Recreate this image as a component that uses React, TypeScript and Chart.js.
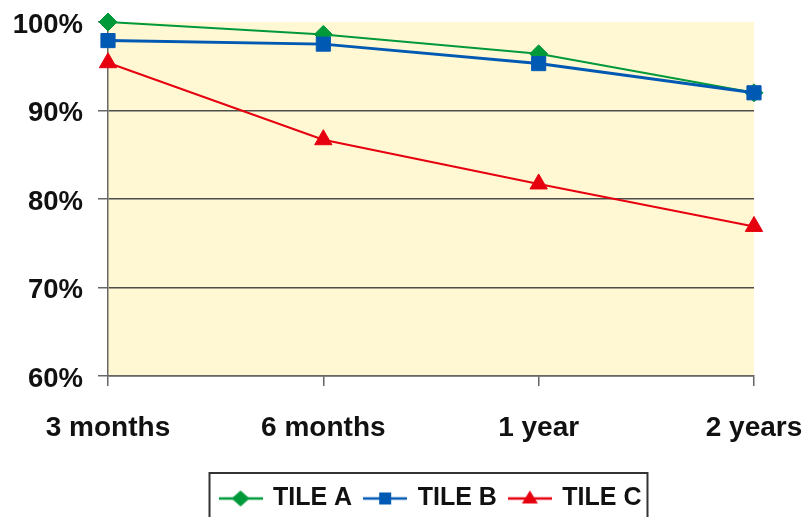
import { useEffect, useRef } from "react";
import { Chart, registerables } from "chart.js";

Chart.register(...registerables);

const categories = ["3 months", "6 months", "1 year", "2 years"];
const seriesNames = ["TILE A", "TILE B", "TILE C"];
const tileA = [100, 98.6, 96.4, 92.0];
const tileB = [97.9, 97.5, 95.3, 92.0];
const tileC = [95.4, 86.7, 81.7, 76.9];
const yTicks = [60, 70, 80, 90, 100];

const GREEN = "#00993A";
const BLUE = "#0059B3";
const RED = "#E6000F";
const FONT_FAMILY = "'Liberation Sans', Arial, Helvetica, sans-serif";

function makeIcon(color: string, kind: string, lineWidth: number): HTMLCanvasElement {
  const c = document.createElement("canvas");
  c.width = 44;
  c.height = 24;
  const ctx = c.getContext("2d")!;
  ctx.strokeStyle = color;
  ctx.fillStyle = color;
  ctx.lineWidth = lineWidth;
  ctx.beginPath();
  ctx.moveTo(0, 12);
  ctx.lineTo(44, 12);
  ctx.stroke();
  const cx = 22;
  const cy = 12;
  ctx.beginPath();
  if (kind === "diamond") {
    ctx.moveTo(cx - 9, cy);
    ctx.lineTo(cx, cy - 8);
    ctx.lineTo(cx + 9, cy);
    ctx.lineTo(cx, cy + 8);
  } else if (kind === "square") {
    ctx.rect(cx - 6, cy - 6, 12, 12);
  } else {
    ctx.moveTo(cx, cy - 8);
    ctx.lineTo(cx + 8, cy + 5);
    ctx.lineTo(cx - 8, cy + 5);
  }
  ctx.closePath();
  ctx.fill();
  return c;
}

const plotBg = {
  id: "plotBg",
  beforeDraw(chart: any) {
    const { ctx, chartArea } = chart;
    if (!chartArea) return;
    ctx.save();
    ctx.fillStyle = "#FFF8D3";
    ctx.fillRect(chartArea.left, chartArea.top, chartArea.right - chartArea.left, chartArea.bottom - chartArea.top);
    ctx.restore();
  },
};

const legendShift = {
  id: "legendShift",
  afterLayout(chart: any) {
    const lg = chart.legend;
    if (!lg) return;
    lg.top += 4;
    lg.bottom += 4;
  },
};

const legendBorder = {
  id: "legendBorder",
  afterDraw(chart: any) {
    const lg = chart.legend;
    const boxes = lg && lg.legendHitBoxes;
    if (!boxes || !boxes.length) return;
    const first = boxes[0];
    const last = boxes[boxes.length - 1];
    const x0 = first.left - 11;
    const x1 = last.left + last.width + 6;
    const y0 = first.top - 13;
    const { ctx } = chart;
    ctx.save();
    ctx.strokeStyle = "#333333";
    ctx.lineWidth = 2;
    ctx.strokeRect(x0, y0, x1 - x0, chart.height + 10 - y0);
    ctx.restore();
  },
};

export default function App() {
  const ref = useRef<HTMLCanvasElement | null>(null);

  useEffect(() => {
    if (!ref.current) return;
    const icons = [
      makeIcon(GREEN, "diamond", 2.5),
      makeIcon(BLUE, "square", 2.5),
      makeIcon(RED, "triangle", 2.5),
    ];
    const font = { family: FONT_FAMILY, size: 28, weight: "bold" as const };
    const yFont = { family: FONT_FAMILY, size: 27.5, weight: "bold" as const };
    const chart = new Chart(ref.current, {
      type: "line",
      data: {
        labels: categories,
        datasets: [
          {
            label: seriesNames[0],
            data: tileA,
            borderColor: GREEN,
            backgroundColor: GREEN,
            borderWidth: 2,
            pointStyle: "rectRot",
            pointRadius: 9,
            pointBorderWidth: 1,
            clip: false as any,
            order: 3,
          },
          {
            label: seriesNames[1],
            data: tileB,
            borderColor: BLUE,
            backgroundColor: BLUE,
            borderWidth: 3,
            pointStyle: "rect",
            pointRadius: 10,
            pointBorderWidth: 1,
            clip: false as any,
            order: 2,
          },
          {
            label: seriesNames[2],
            data: tileC,
            borderColor: RED,
            backgroundColor: RED,
            borderWidth: 2,
            pointStyle: "triangle",
            pointRadius: 10,
            pointBorderWidth: 1,
            clip: false as any,
            order: 1,
          },
        ],
      },
      options: {
        animation: false,
        responsive: false,
        layout: { padding: { left: 0, right: 56, top: 22, bottom: 0 } },
        plugins: {
          tooltip: { enabled: false },
          legend: {
            position: "bottom",
            fullSize: false,
            labels: {
              usePointStyle: true,
              pointStyleWidth: 40,
              padding: 13,
              color: "#111",
              font: { family: FONT_FAMILY, size: 25, weight: "bold" },
              generateLabels: (ch: any) => {
                const items = Chart.defaults.plugins.legend.labels.generateLabels(ch);
                items.sort((a: any, b: any) => a.datasetIndex - b.datasetIndex);
                return items.map((it: any) => ({ ...it, pointStyle: icons[it.datasetIndex], fontColor: "#111" }));
              },
            },
          },
        },
        scales: {
          x: {
            offset: false,
            grid: { drawOnChartArea: false, drawTicks: true, tickLength: 10, color: "#666", lineWidth: 1.5 },
            border: { color: "#666", width: 1.5 },
            ticks: { font, color: "#111", padding: 25, maxRotation: 0, autoSkip: false },
            afterFit: (s: any) => {
              s.height = 93;
              s.paddingLeft = 0;
              s.paddingRight = 0;
            },
          },
          y: {
            min: 60,
            max: 100,
            afterBuildTicks: (s: any) => {
              s.ticks = yTicks.map((v) => ({ value: v }));
            },
            ticks: { font: yFont, color: "#111", padding: 15, labelOffset: 3, callback: (v: any) => v + "%" },
            grid: {
              color: (c: any) => (c.tick && c.tick.value === 100 ? "rgba(0,0,0,0)" : "#4d4d4d"),
              lineWidth: 1.5,
              tickLength: 10,
              tickColor: "#666",
            },
            border: { color: "#666", width: 1.5 },
            afterFit: (s: any) => {
              s.width = 108;
              s.paddingTop = 0;
              s.paddingBottom = 0;
            },
          },
        },
      },
      plugins: [plotBg, legendShift, legendBorder],
    });
    return () => chart.destroy();
  }, []);

  return (
    <div style={{ position: "absolute", left: 0, top: 0, width: 810, height: 517, background: "#fff" }}>
      <canvas ref={ref} width={810} height={517} style={{ display: "block" }} />
    </div>
  );
}
